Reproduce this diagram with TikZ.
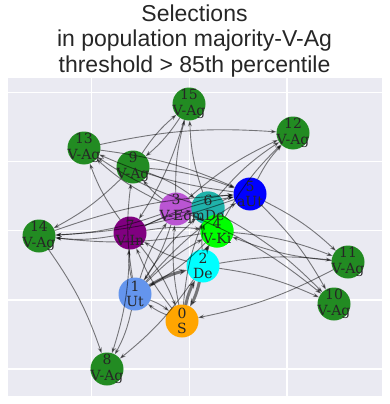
\documentclass[tikz,border=0pt]{standalone}
\usepackage{fontspec}
\usetikzlibrary{arrows.meta}
\newfontfamily\titlefont{Liberation Sans}
\newfontfamily\nodefont{DejaVu Serif}
\definecolor{bgc}{HTML}{EAEAF2}
\definecolor{txt}{HTML}{262626}
\definecolor{cgreen}{HTML}{228B22}
\definecolor{cblue}{HTML}{0000FF}
\definecolor{corchid}{HTML}{BA55D3}
\definecolor{cseagreen}{HTML}{20B2AA}
\definecolor{clime}{HTML}{00FF00}
\definecolor{cpurple}{HTML}{800080}
\definecolor{ccyan}{HTML}{00FFFF}
\definecolor{ccorn}{HTML}{6495ED}
\definecolor{corange}{HTML}{FFA500}
\begin{document}
\begin{tikzpicture}[x=1pt,y=-1pt,
  vtx/.style={circle,minimum size=33pt,inner sep=0pt,outer sep=0pt},
  lbl/.style={font=\nodefont\fontsize{14}{15.5}\selectfont,text=txt,align=center,inner sep=0pt},
  ttl/.style={font=\titlefont\fontsize{23}{25}\selectfont,text=txt,anchor=base,inner sep=0pt},
  grid line/.style={white,line width=1.2pt},
  edge/.style={draw=black,opacity=0.5,line width=0.9pt,-{Stealth[length=6pt,width=4pt]},bend left=8},
  heavy edge/.style={edge,line width=3pt,-{Stealth[length=8pt,width=6pt]}}
]
\useasboundingbox (0,0) rectangle (389,404);
\fill[bgc] (8,78) rectangle (382,396);
\foreach \x in {91.5,189.5,287} \draw[grid line] (\x,78) -- (\x,396);
\foreach \y in {92.5,161.5,230.5,300,369} \draw[grid line] (8,\y) -- (382,\y);

\node[ttl] (t1) at (194.5,22) {Selections};
\node[ttl] (t2) at (194.5,47) {in population majority-V-Ag};
\node[ttl] (t3) at (194.5,72) {threshold > 85th percentile};

\node[vtx,fill=corange]   (n0)  at (182,321) {};
\node[vtx,fill=ccorn]     (n1)  at (135,294) {};
\node[vtx,fill=ccyan]     (n2)  at (203,266) {};
\node[vtx,fill=corchid]   (n3)  at (176,209) {};
\node[vtx,fill=clime]     (n4)  at (217,231) {};
\node[vtx,fill=cblue]     (n5)  at (250,194) {};
\node[vtx,fill=cseagreen] (n6)  at (208,208) {};
\node[vtx,fill=cpurple]   (n7)  at (130,233) {};
\node[vtx,fill=cgreen]    (n8)  at (107,369) {};
\node[vtx,fill=cgreen]    (n9)  at (133,167) {};
\node[vtx,fill=cgreen]    (n10) at (334,304) {};
\node[vtx,fill=cgreen]    (n11) at (348,262) {};
\node[vtx,fill=cgreen]    (n12) at (293,133) {};
\node[vtx,fill=cgreen]    (n13) at (84,148) {};
\node[vtx,fill=cgreen]    (n14) at (39,236) {};
\node[vtx,fill=cgreen]    (n15) at (189,104) {};
% re-stack overlapping nodes as in the reference
\node[vtx,fill=cseagreen] (n6b) at (n6) {};
\node[vtx,fill=clime]     (n4b) at (n4) {};

\foreach \a/\b in {
9/15, 15/9, 15/7, 3/15, 6/15,
5/12, 4/12, 6/12, 3/12, 13/12,
13/5, 9/5, 14/5, 7/5,
5/13, 6/13, 7/13, 3/13,
3/9, 9/6, 1/9,
9/14, 3/14, 7/14, 4/14, 5/14,
2/7,
14/8, 7/8, 1/8, 2/8,
1/7, 0/7, 7/0,
0/1, 1/0,
2/11, 4/11, 5/11, 11/4, 11/0,
2/10, 5/10, 6/10, 3/10,
7/4, 3/4, 1/3, 1/6, 1/4, 0/3, 0/6, 3/1, 4/1, 1/5, 7/6, 3/5, 6/5, 2/6}
  \draw[edge] (n\a) to (n\b);
\foreach \a/\b in {1/2, 0/2, 2/0, 2/4}
  \draw[heavy edge] (n\a) to (n\b);

\node[lbl] (l0)  at (n0)  {0\\S};
\node[lbl] (l1)  at (n1)  {1\\Ut};
\node[lbl] (l2)  at (n2)  {2\\De};
\node[lbl] (l3)  at (n3)  {3\\V-Eq};
\node[lbl] (l4)  at (n4)  {4\\V-Ki};
\node[lbl] (l5)  at (n5)  {5\\aUt};
\node[lbl] (l6)  at (n6)  {6\\mDe};
\node[lbl] (l7)  at (n7)  {7\\V-In};
\node[lbl] (l8)  at (n8)  {8\\V-Ag};
\node[lbl] (l9)  at (n9)  {9\\V-Ag};
\node[lbl] (l10) at (n10) {10\\V-Ag};
\node[lbl] (l11) at (n11) {11\\V-Ag};
\node[lbl] (l12) at (n12) {12\\V-Ag};
\node[lbl] (l13) at (n13) {13\\V-Ag};
\node[lbl] (l14) at (n14) {14\\V-Ag};
\node[lbl] (l15) at (n15) {15\\V-Ag};
\end{tikzpicture}
\end{document}
